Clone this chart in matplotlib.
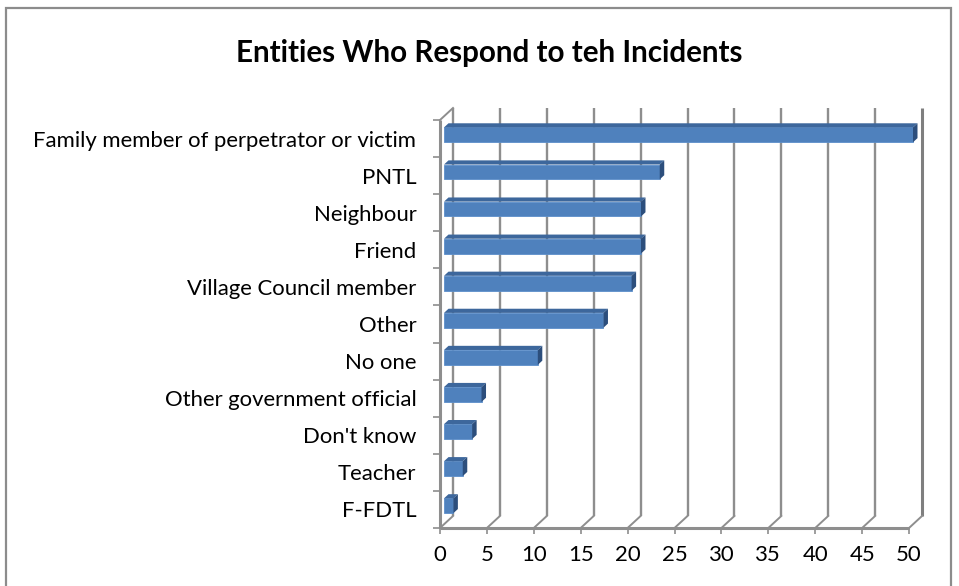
import matplotlib
matplotlib.use("Agg")
import matplotlib.pyplot as plt
from matplotlib.patches import Polygon, Rectangle

# ---- data -------------------------------------------------------------
categories = [
    "Family member of perpetrator or victim",
    "PNTL",
    "Neighbour",
    "Friend",
    "Village Council member",
    "Other",
    "No one",
    "Other government official",
    "Don't know",
    "Teacher",
    "F-FDTL",
]
values = [50, 23, 21, 21, 20, 17, 10, 4, 3, 2, 1]
x_ticks = [0, 5, 10, 15, 20, 25, 30, 35, 40, 45, 50]
title = "Entities Who Respond to teh Incidents"

# ---- styling ----------------------------------------------------------
FONT = ["Lato", "DejaVu Sans"]
GRID = "#8e8e8e"
FRONT = "#4f81bd"
TOP = "#3d679c"
SIDE = "#2c4e7c"
LABEL_SIZE = 15.9

W, H = 959, 586
fig = plt.figure(figsize=(W / 100, H / 100), dpi=100)
fig.patch.set_facecolor("white")

# chart-area frame
fig.patches.append(Rectangle((6 / W, -0.05), (951 - 6) / W, (1 - 8 / H) + 0.05,
                             transform=fig.transFigure, fill=False,
                             ec="#8c8c8c", lw=1.6))

fig.text(489 / W, 1 - 53 / H, title, ha="center", va="center",
         fontsize=21.3, fontweight="bold", family=FONT, color="#000000")

# front plane of the 3-D box
left, right, bottom, top = 440, 909, 528, 120
ax = fig.add_axes([left / W, 1 - bottom / H, (right - left) / W, (bottom - top) / H])
n = len(categories)
xmax = x_ticks[-1]
ax.set_xlim(0, xmax)
ax.set_ylim(0, n)
for s in ax.spines.values():
    s.set_visible(False)
ax.patch.set_alpha(0)

# depth of the box expressed in data units
bb = ax.get_window_extent()
DX = 13 / (bb.width / xmax)
DY = 12 / (bb.height / n)

# back-wall gridlines and floor edges
for v in x_ticks:
    lw = 2.2 if v == xmax else 1.7
    col = "#7f7f7f" if v == xmax else GRID
    ax.plot([v + DX, v + DX], [DY, n + DY], color=col, lw=lw,
            clip_on=False, zorder=1, solid_capstyle="butt")
    ax.plot([v, v + DX], [0, DY], color=GRID, lw=1.4, clip_on=False, zorder=1)

# left wall: top edge and front edge; floor front edge
ax.plot([0, DX], [n, n + DY], color=GRID, lw=1.4, clip_on=False, zorder=1)
ax.plot([0, 0], [0, n], color=GRID, lw=2.2, clip_on=False, zorder=5,
        solid_capstyle="butt")
ax.plot([0, xmax], [0, 0], color=GRID, lw=2.2, clip_on=False, zorder=5,
        solid_capstyle="butt")

# bars: front face + top face + right side face
f1, f2 = 4 / 13, 8.5 / 13
h = 0.40
centers = [n - i - 0.5 for i in range(n)]
ax.barh([c + f1 * DY for c in centers], values, left=f1 * DX, height=h,
        color=FRONT, edgecolor="#5d8fca", lw=0.6, zorder=3, clip_on=False)
for c, v in zip(centers, values):
    yt, yb = c + h / 2, c - h / 2
    ax.add_patch(Polygon([(f1 * DX, yt + f1 * DY), (v + f1 * DX, yt + f1 * DY),
                          (v + f2 * DX, yt + f2 * DY), (f2 * DX, yt + f2 * DY)],
                         closed=True, fc=TOP, ec="none", zorder=3, clip_on=False))
    ax.add_patch(Polygon([(v + f1 * DX, yb + f1 * DY), (v + f1 * DX, yt + f1 * DY),
                          (v + f2 * DX, yt + f2 * DY), (v + f2 * DX, yb + f2 * DY)],
                         closed=True, fc=SIDE, ec="none", zorder=3, clip_on=False))

# axes ticks and labels
ax.set_xticks(x_ticks)
ax.set_xticklabels([str(t) for t in x_ticks], family=FONT, fontsize=LABEL_SIZE)
ax.tick_params(axis="x", direction="out", length=4, width=1.2, color=GRID,
               pad=8, labelcolor="#000000")
ax.set_yticks(range(n + 1))
ax.set_yticklabels([])
ax.tick_params(axis="y", which="major", direction="out", length=5, width=1.2,
               color=GRID)
ax.set_yticks(centers, minor=True)
ax.set_yticklabels(categories, minor=True, family=FONT, fontsize=LABEL_SIZE)
ax.tick_params(axis="y", which="minor", length=0, pad=17, labelcolor="#000000")

fig.savefig("out.png", dpi=100, facecolor="white")
